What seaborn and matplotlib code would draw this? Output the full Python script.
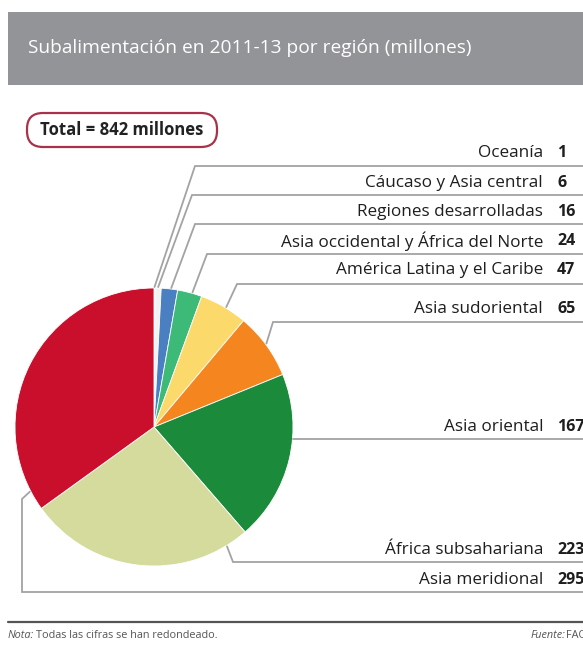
import numpy as np
import matplotlib.pyplot as plt
import seaborn as sns
from matplotlib.patches import Rectangle, FancyBboxPatch

# Subalimentación 2011-13 por región (millones), orden del gráfico
regiones = ['Oceanía', 'Cáucaso y Asia central', 'Regiones desarrolladas',
            'Asia occidental y África del Norte', 'América Latina y el Caribe',
            'Asia sudoriental', 'Asia oriental', 'África subsahariana',
            'Asia meridional']
millones = [1, 6, 16, 24, 47, 65, 167, 223, 295]
colores = ['#dcdce6', '#f2f2f2', '#4a7fc1', '#3dba77', '#fcd96b',
           '#f5861f', '#1b8b3b', '#d5db9d', '#c90f2c']
total_txt = 'Total = 842 millones'

sns.set_style('white')
plt.rcParams['font.family'] = ['Open Sans', 'DejaVu Sans']

W, H = 583, 651
fig = plt.figure(figsize=(W / 100, H / 100), dpi=100)
ax = fig.add_axes([0, 0, 1, 1])

def Y(py):
    return H - py

# pie (pixel layout)
cx, cy, r = 154, 427, 139
wedges, _ = ax.pie(millones, colors=sns.color_palette(colores), startangle=90,
                   counterclock=False, center=(cx, Y(cy)), radius=r,
                   wedgeprops=dict(edgecolor='white', linewidth=0.6))
ax.set_xlim(0, W)
ax.set_ylim(0, H)
ax.set_aspect('equal')
ax.axis('off')

# header
ax.add_patch(Rectangle((8, Y(85)), W, 73, facecolor='#939498', edgecolor='none'))
ax.text(28, Y(48), 'Subalimentación en 2011-13 por región (millones)',
        color='white', fontsize=13.8, va='center', ha='left')

# total box
ax.add_patch(FancyBboxPatch((27, Y(147)), 190, 34,
                            boxstyle='round,pad=0,rounding_size=16',
                            facecolor='white', edgecolor='#a8324a', linewidth=1.6))
ax.text(122, Y(130), total_txt, fontsize=12, fontweight='bold',
        ha='center', va='center', color='#222222')

# label rows
text_y = [153, 183, 212, 241, 270, 309, 427, 550, 580]
line_y = [166, 195, 224, 254, 284, 322, 439, 562, 592]
anchor_frac = [0.5, 0.5, 0.6, 0.6, 0.55, 0.48, 0.38, 0.10, 0.066]
elbows = [[(195, 166)], [(192, 195)], [(195, 224)], [(207, 254)],
          [(237, 284)], [(273, 322)], [], [(233, 562)],
          [(22, 499), (22, 592)]]

tot = float(sum(millones))
cum = np.concatenate([[0], np.cumsum(millones)]) / tot * 360.0
line_col = '#a3a3a3'
for i, (nom, val) in enumerate(zip(regiones, millones)):
    ang = 90 - (cum[i] + anchor_frac[i] * (cum[i + 1] - cum[i]))
    ax_ = cx + (r + 1) * np.cos(np.radians(ang))
    ay_ = cy - (r + 1) * np.sin(np.radians(ang))
    pts = [(ax_, ay_)] + elbows[i]
    if not elbows[i]:
        pts = [(ax_, line_y[i])]
    pts.append((W + 5, line_y[i]))
    xs = [p[0] for p in pts]
    ys = [Y(p[1]) for p in pts]
    ax.plot(xs, ys, color=line_col, linewidth=1.3, solid_joinstyle='miter')
    ax.text(543, Y(text_y[i]), nom, fontsize=12.3, ha='right', va='center',
            color='#1e1e1e')
    ax.text(557, Y(text_y[i]), str(val), fontsize=11.5, fontweight='bold',
            ha='left', va='center', color='#1e1e1e')

# footer
ax.plot([8, W], [Y(622), Y(622)], color='#555555', linewidth=1.6)
ax.text(8, Y(635), 'Nota:', fontsize=7.8, style='italic', color='#555555',
        ha='left', va='center')
ax.text(36, Y(635), 'Todas las cifras se han redondeado.', fontsize=7.8,
        color='#555555', ha='left', va='center')
ax.text(531, Y(635), 'Fuente:', fontsize=7.8, style='italic', color='#555555',
        ha='left', va='center')
ax.text(566, Y(635), 'FAO', fontsize=7.8, color='#555555', ha='left', va='center')

fig.savefig('out.png', dpi=100, facecolor='white')
